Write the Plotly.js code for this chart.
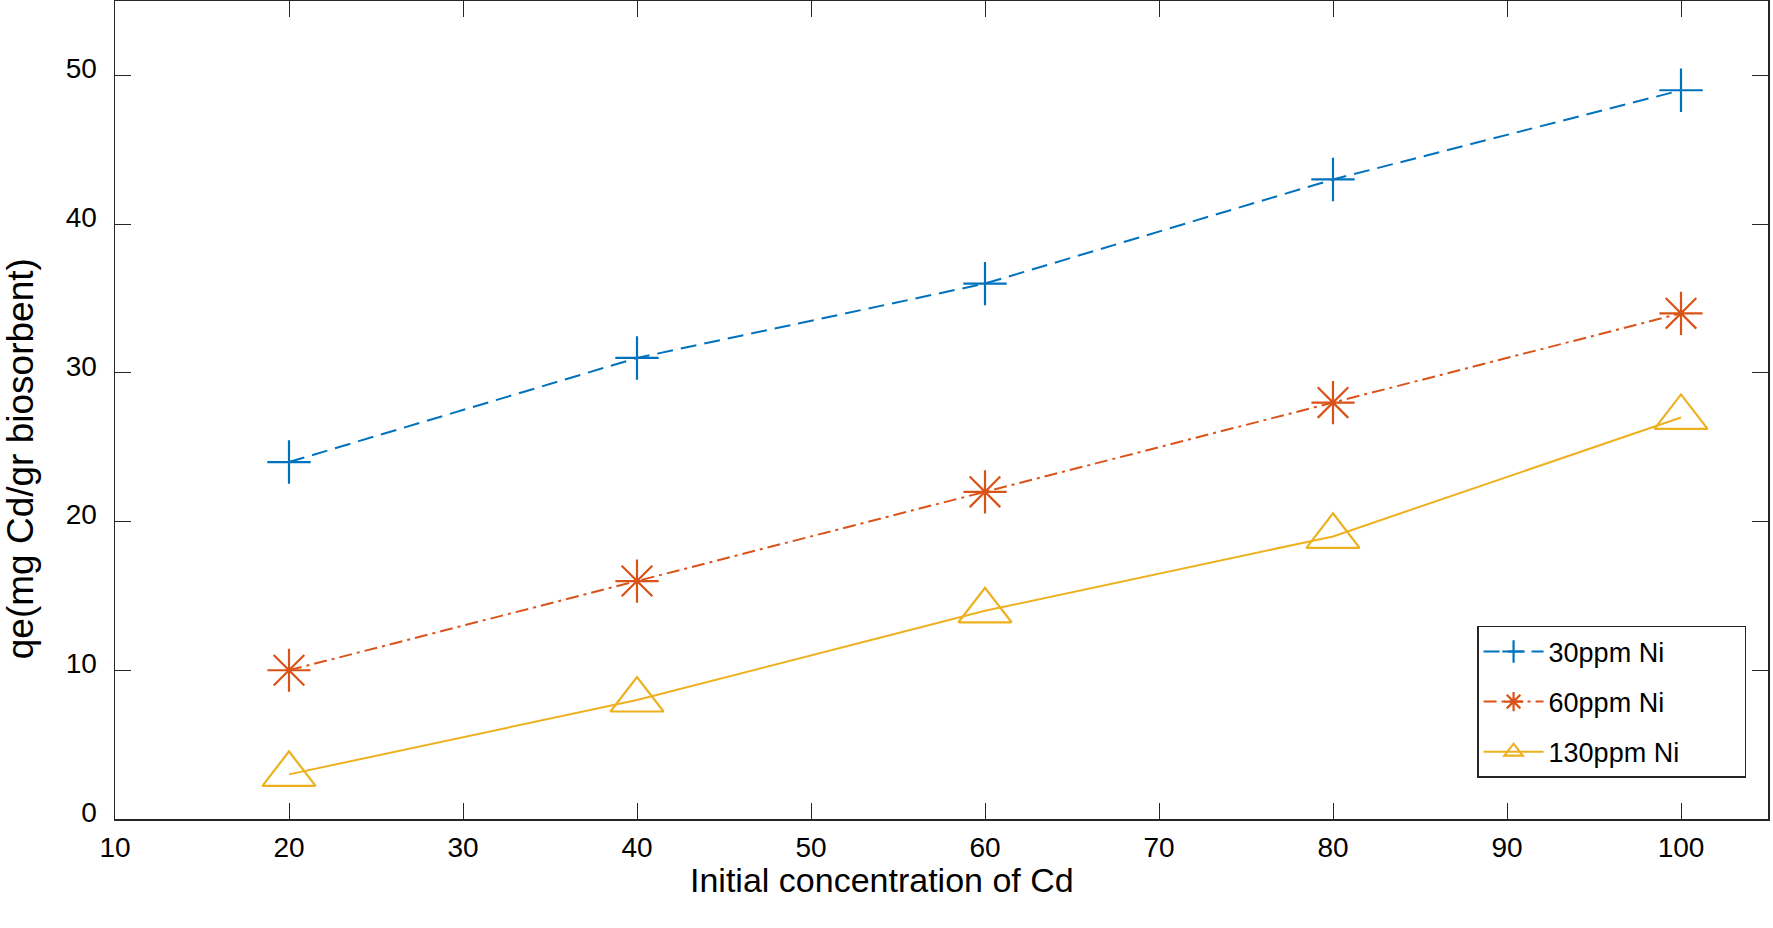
<!DOCTYPE html>
<html>
<head>
<meta charset="utf-8">
<script src="https://cdn.plot.ly/plotly-3.0.1.min.js"></script>
<style>html,body{margin:0;padding:0;background:#fff;}#chart{width:1773px;height:928px;}</style>
</head>
<body>
<div id="chart"></div>
<script>
const concentrations = [20, 40, 60, 80, 100];
const ni30 = [24, 31, 36, 43, 49];
const ni60 = [10, 16, 22, 28, 34];
const ni130 = [3, 8, 14, 19, 27];
const seriesNames = ['30ppm Ni', '60ppm Ni', '130ppm Ni'];
const xTicks = [10, 20, 30, 40, 50, 60, 70, 80, 90, 100];
const yTicks = [0, 10, 20, 30, 40, 50];
const xTitle = 'Initial concentration of Cd';
const yTitle = 'qe(mg Cd/gr biosorbent)';

const FONT = 'Liberation Sans, Arial, sans-serif';
// non-breaking padding widens the legend box to the reference's width
const PAD = '\u00a0'.repeat(8);

const traces = [
  {
    x: concentrations, y: ni30, name: seriesNames[0] + PAD, legendgroup: 'a',
    mode: 'lines+markers', type: 'scatter',
    line: {color: '#0072BD', width: 2, dash: '16px,8px'},
    marker: {symbol: 'cross-thin-open', size: 31, color: '#0072BD', line: {color: '#0072BD', width: 2.2}}
  },
  {
    x: concentrations, y: ni60, name: seriesNames[1] + PAD, legendgroup: 'b',
    mode: 'lines+markers', type: 'scatter',
    line: {color: '#D95319', width: 2, dash: '13px,5px,3px,5px'},
    marker: {symbol: 'asterisk-open', size: 36, color: '#D95319', line: {color: '#D95319', width: 2.2}}
  },
  {
    x: concentrations, y: ni130, name: seriesNames[2] + PAD, legendgroup: 'c',
    mode: 'lines+markers', type: 'scatter',
    line: {color: '#EDB120', width: 2},
    marker: {symbol: 'triangle-up-open', size: 46, color: '#EDB120', line: {color: '#EDB120', width: 2.2}}
  }
];

const axisCommon = {
  showgrid: false, zeroline: false, showline: true, mirror: 'ticks',
  linecolor: '#262626', linewidth: 1.5,
  ticks: 'inside', ticklen: 16, tickwidth: 1, tickcolor: '#262626',
  tickfont: {family: FONT, size: 28, color: '#000'}
};

const layout = {
  width: 1773, height: 928,
  paper_bgcolor: '#fff', plot_bgcolor: '#fff',
  margin: {l: 115, r: 5, t: 1, b: 109},
  showlegend: true,
  xaxis: Object.assign({}, axisCommon, {
    range: [10, 105], tickvals: xTicks, ticktext: xTicks.map(String),
    ticklabelstandoff: 3
  }),
  yaxis: Object.assign({}, axisCommon, {
    range: [0, 55], tickvals: yTicks, ticktext: yTicks.map(String),
    ticklabelstandoff: 11, ticklabelshift: -7
  }),
  annotations: [
    {text: xTitle, xref: 'paper', yref: 'paper', x: 0.464, y: -0.0746,
     xanchor: 'center', yanchor: 'middle', showarrow: false,
     font: {family: FONT, size: 34, color: '#000'}},
    {text: yTitle, xref: 'paper', yref: 'paper', x: -0.0575, y: 0.441,
     xanchor: 'center', yanchor: 'middle', showarrow: false, textangle: -90,
     font: {family: FONT, size: 37, color: '#000'}}
  ],
  legend: {
    x: 0.824, y: 0.236, xanchor: 'left', yanchor: 'top',
    bgcolor: '#fff', bordercolor: '#262626', borderwidth: 1.5,
    font: {family: FONT, size: 27, color: '#000'},
    tracegroupgap: 12, itemwidth: 60
  }
};

Plotly.newPlot('chart', traces, layout, {displayModeBar: false, staticPlot: true});
</script>
</body>
</html>
